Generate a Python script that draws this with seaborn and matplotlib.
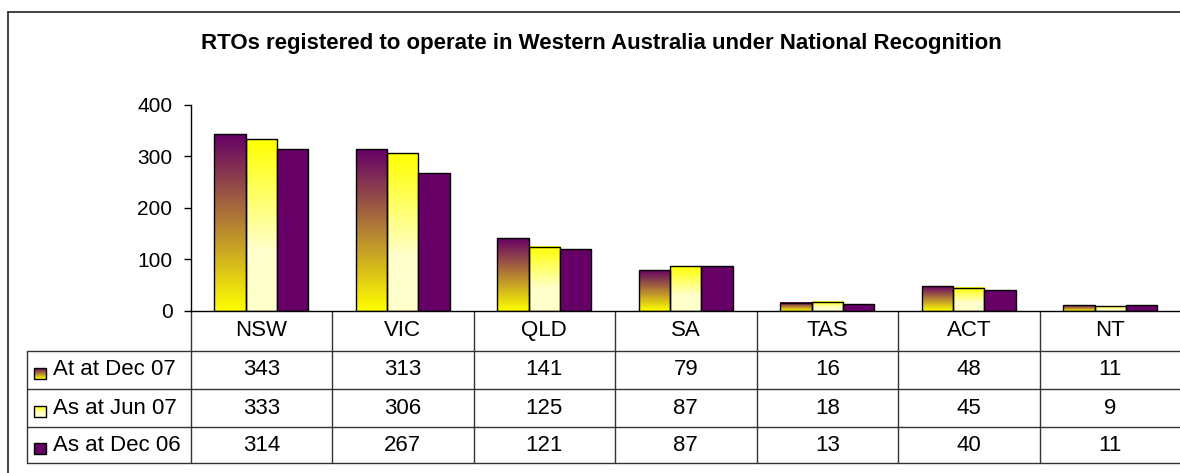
import numpy as np
import pandas as pd
import matplotlib
matplotlib.use("Agg")
import matplotlib.pyplot as plt
import matplotlib.transforms as mtransforms
from matplotlib.patches import Rectangle
import seaborn as sns

states = ["NSW", "VIC", "QLD", "SA", "TAS", "ACT", "NT"]
series = ["At at Dec 07", "As at Jun 07", "As at Dec 06"]
dec07 = [343, 313, 141, 79, 16, 48, 11]
jun07 = [333, 306, 125, 87, 18, 45, 9]
dec06 = [314, 267, 121, 87, 13, 40, 11]
title = "RTOs registered to operate in Western Australia under National Recognition"

purple = "#660066"
yellow = "#FFFF00"
pale = "#FFFFCC"

df = pd.DataFrame({
    "state": states * 3,
    "series": np.repeat(series, len(states)),
    "value": dec07 + jun07 + dec06,
})

sns.set_theme(style="white")
plt.rcParams["font.family"] = ["Liberation Sans", "DejaVu Sans"]
plt.rcParams["text.color"] = "black"
plt.rcParams["ytick.color"] = "black"
plt.rcParams["xtick.color"] = "black"

W, H = 1180, 473
fig = plt.figure(figsize=(W / 100, H / 100), dpi=100)


def px_box(l, t, r, b):
    return [l / W, 1 - b / H, (r - l) / W, (b - t) / H]


def grad(top, bot, stop=1.0, n=200):
    c1 = np.array(matplotlib.colors.to_rgb(top))
    c2 = np.array(matplotlib.colors.to_rgb(bot))
    t = np.clip(np.linspace(0, 1, n) / stop, 0, 1)[:, None]
    return (c1 * (1 - t) + c2 * t)[:, None, :]


grads = [grad(purple, yellow), grad(yellow, pale, stop=0.65)]

ax = fig.add_axes(px_box(190.5, 104.6, 1181, 311))
sns.barplot(data=df, x="state", y="value", hue="series", order=states,
            hue_order=series, palette=[purple, pale, purple], width=0.665,
            saturation=1, edgecolor="black", linewidth=1, legend=False, ax=ax)

# gradient fills for the first two series
for cont, g in zip(ax.containers[:2], grads):
    for bar in cont:
        x0, y0 = bar.get_xy()
        ax.imshow(g, extent=[x0, x0 + bar.get_width(), y0, y0 + bar.get_height()],
                  aspect="auto", zorder=bar.get_zorder() - 0.1, interpolation="bilinear")
        bar.set_facecolor("none")

ax.set_xlim(-0.5, len(states) - 0.5)
ax.set_ylim(0, 400)
ax.set_yticks(range(0, 401, 100))
ax.set_xlabel("")
ax.set_ylabel("")
ax.tick_params(axis="x", length=0, labelbottom=False)
ax.tick_params(axis="y", direction="out", length=5, width=1, color="black",
               labelcolor="black", pad=8, labelsize=15, left=True)
for s in ["top", "right"]:
    ax.spines[s].set_visible(False)
for s in ["left", "bottom"]:
    ax.spines[s].set_color("black")
    ax.spines[s].set_linewidth(1)

# overlay in pixel coordinates for frame, title and data table
ov = fig.add_axes([0, 0, 1, 1], zorder=-1)
ov.set_xlim(0, W)
ov.set_ylim(H, 0)
ov.axis("off")

ov.plot([8, 8], [12, H], color="#222222", lw=1.2)
ov.plot([8, W], [12, 12], color="#222222", lw=1.2)
ov.text(601, 43, title, ha="center", va="center", fontsize=16, fontweight="bold")

blend = mtransforms.blended_transform_factory(ax.transData, ov.transData)
rows_y = [311, 350.7, 389, 427, 463]
tab_left = 27
line_kw = dict(color="#333333", lw=1, clip_on=False)

for i in range(len(states) + 1):
    ov.plot([i - 0.5, i - 0.5], [rows_y[0], rows_y[-1]], transform=blend, **line_kw)
for y in rows_y[1:]:
    ov.plot([tab_left, W], [y, y], **line_kw)
ov.plot([tab_left, tab_left], [rows_y[1], rows_y[-1]], **line_kw)

for i, st in enumerate(states):
    ov.text(i, (rows_y[0] + rows_y[1]) / 2, st, transform=blend,
            ha="center", va="center", fontsize=16)

values = [dec07, jun07, dec06]
for r, (name, vals) in enumerate(zip(series, values)):
    yc = (rows_y[r + 1] + rows_y[r + 2]) / 2
    for i, v in enumerate(vals):
        ov.text(i, yc, str(v), transform=blend, ha="center", va="center", fontsize=16)
    ov.text(53, yc, name, ha="left", va="center", fontsize=16)
    # legend key
    kx, ky, kw, kh = 34, yc - 2, 12, 11
    if r < 2:
        ov.imshow(grads[r], extent=[kx, kx + kw, ky + kh, ky], aspect="auto",
                  interpolation="bilinear", zorder=2)
        ov.add_patch(Rectangle((kx, ky), kw, kh, facecolor="none",
                               edgecolor="black", lw=1, zorder=3))
    else:
        ov.add_patch(Rectangle((kx, ky), kw, kh, facecolor=purple,
                               edgecolor="black", lw=1, zorder=3))

ov.set_xlim(0, W)
ov.set_ylim(H, 0)

fig.savefig("out.png", dpi=100)
